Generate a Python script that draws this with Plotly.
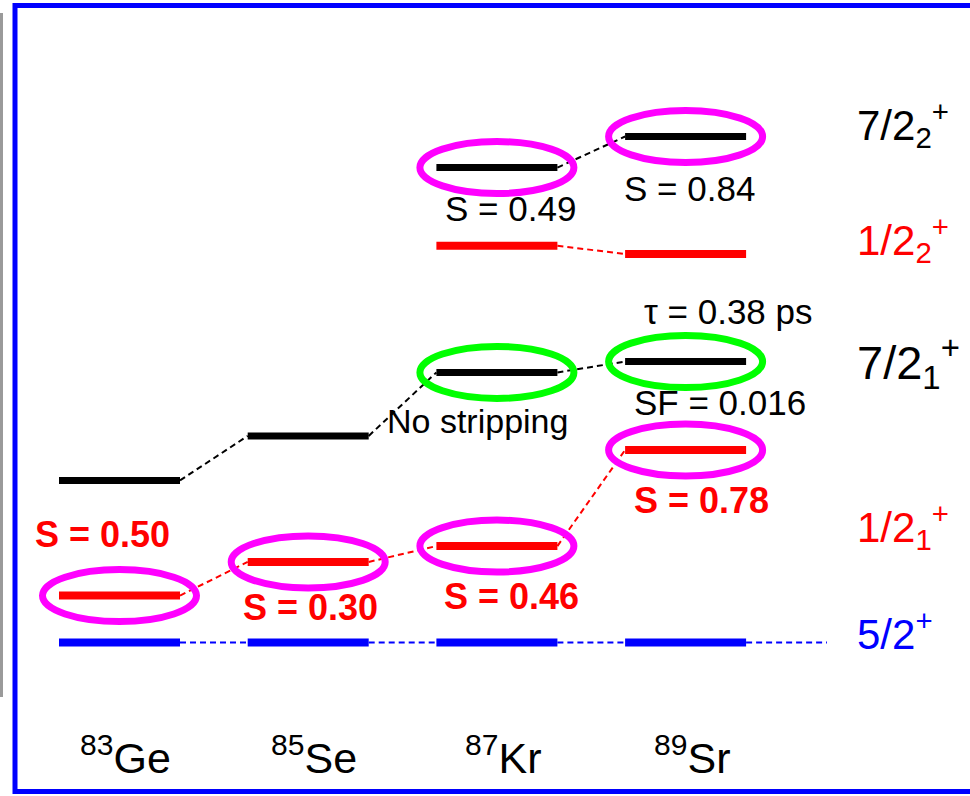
import plotly.graph_objects as go

# ---------------- data ----------------
nuclei = ["<sup>83</sup>Ge", "<sup>85</sup>Se", "<sup>87</sup>Kr", "<sup>89</sup>Sr"]
# level energies (keV, schematic) for each nucleus; None = not shown
E_5_2 = [0, 0, 0, 0]
E_1_2_1 = [251, 431, 516, 1030]
E_7_2_1 = [867, 1105, 1445, 1503]
E_1_2_2 = [None, None, 2123, 2078]
E_7_2_2 = [None, None, 2541, 2707]

level_labels = ["7/2<sub>2</sub><sup>+</sup>", "1/2<sub>2</sub><sup>+</sup>",
                "7/2<sub>1</sub><sup>+</sup>", "1/2<sub>1</sub><sup>+</sup>", "5/2<sup>+</sup>"]

# ---------------- geometry / style ----------------
W, H = 970, 796
X_PX0, X_PX_STEP = 119.5, 188.7
Y_PX0, KEV_PER_PX = 642.5, 5.35
HW = 60.5 / X_PX_STEP            # half bar width in x units
RX = 77 / X_PX_STEP              # ellipse radii
RY = 26 * KEV_PER_PX
x_range = [(0 - X_PX0) / X_PX_STEP, (W - X_PX0) / X_PX_STEP]
y_range = [(Y_PX0 - H) * KEV_PER_PX, Y_PX0 * KEV_PER_PX]

BLUE, RED, BLACK, MAG, GREEN = "#0000ff", "#ff0000", "#000000", "#ff00ff", "#00ff00"
FONT = "Liberation Sans, Arial, sans-serif"

fig = go.Figure()

def add_levels(E, color, width, extend_to=None):
    bx, by, dx, dy = [], [], [], []
    idx = [i for i, e in enumerate(E) if e is not None]
    for i in idx:
        bx += [i - HW, i + HW, None]
        by += [E[i], E[i], None]
    for a, b in zip(idx[:-1], idx[1:]):
        dx += [a + HW, b - HW, None]
        dy += [E[a], E[b], None]
    if extend_to is not None:
        last = idx[-1]
        dx += [last + HW, extend_to, None]
        dy += [E[last], E[last], None]
    fig.add_trace(go.Scatter(x=dx, y=dy, mode="lines", hoverinfo="skip",
                             line=dict(color=color, width=2, dash="6px,4px")))
    fig.add_trace(go.Scatter(x=bx, y=by, mode="lines", hoverinfo="skip",
                             line=dict(color=color, width=width)))

add_levels(E_5_2, BLUE, 8, extend_to=(827 - X_PX0) / X_PX_STEP)
add_levels(E_1_2_1, RED, 8)
add_levels(E_7_2_1, BLACK, 7)
add_levels(E_1_2_2, RED, 8)
add_levels(E_7_2_2, BLACK, 7)

# ellipses around selected levels
circled = [(0, E_1_2_1, MAG), (1, E_1_2_1, MAG), (2, E_1_2_1, MAG), (3, E_1_2_1, MAG),
           (2, E_7_2_2, MAG), (3, E_7_2_2, MAG),
           (2, E_7_2_1, GREEN), (3, E_7_2_1, GREEN)]
for i, E, c in circled:
    fig.add_shape(type="circle", xref="x", yref="y",
                  x0=i - RX, x1=i + RX, y0=E[i] - RY, y1=E[i] + RY,
                  line=dict(color=c, width=7))

# annotations attached to levels (nucleus, level list, text, style, xshift, yshift)
notes = [
    (0, E_1_2_1, "S = 0.50", "b", -17, 61),
    (1, E_1_2_1, "S = 0.30", "b", 2, -46),
    (2, E_1_2_1, "S = 0.46", "b", 15, -50),
    (3, E_1_2_1, "S = 0.78", "b", 16, -51),
    (2, E_7_2_2, "S = 0.49", "n", 14, -41),
    (3, E_7_2_2, "S = 0.84", "n", 4, -52),
    (3, E_7_2_1, "τ = 0.38 ps", "n", 43, 50),
    (3, E_7_2_1, "SF = 0.016", "n", 34, -41),
    (2, E_7_2_1, "No stripping", "s", -19, -49),
]
for i, E, t, st, xs, ys in notes:
    if st == "b":
        font = dict(family=FONT, size=36, color=RED, weight="bold")
        txt = "<b>" + t + "</b>"
    elif st == "s":
        font = dict(family=FONT, size=34, color=BLACK)
        txt = t
    else:
        font = dict(family=FONT, size=35, color=BLACK)
        txt = t
    fig.add_annotation(x=i, y=E[i], xref="x", yref="y", text=txt, showarrow=False,
                       xshift=xs, yshift=ys, xanchor="center", yanchor="middle", font=font)

# level labels on the right
label_y_px = [124, 240, 362, 526, 631]
label_colors = [BLACK, RED, BLACK, RED, BLUE]
label_sizes = [42, 42, 47, 42, 42]
for t, yp, c, s in zip(level_labels, label_y_px, label_colors, label_sizes):
    fig.add_annotation(x=855 / W, y=1 - yp / H, xref="paper", yref="paper", text=t,
                       showarrow=False, xanchor="left", yanchor="middle",
                       font=dict(family=FONT, size=s, color=c))

# nucleus labels at the bottom
for i, n in enumerate(nuclei):
    fig.add_annotation(x=i, y=1 - 755 / H, xref="x", yref="paper", text=n,
                       showarrow=False, xshift=6, xanchor="center", yanchor="middle",
                       font=dict(family=FONT, size=43, color=BLACK))

# frame
fig.add_shape(type="rect", xref="paper", yref="paper",
              x0=15 / W, x1=1.02, y0=1 - 791.5 / H, y1=1 - 5.5 / H,
              line=dict(color=BLUE, width=5))
fig.add_shape(type="line", xref="paper", yref="paper",
              x0=1.5 / W, x1=1.5 / W, y0=1 - 13 / H, y1=1 - 697 / H,
              line=dict(color="#9a9a9a", width=3))

fig.update_layout(
    width=W, height=H, margin=dict(l=0, r=0, t=0, b=0),
    paper_bgcolor="white", plot_bgcolor="white", showlegend=False,
    xaxis=dict(range=x_range, visible=False, fixedrange=True),
    yaxis=dict(range=y_range, visible=False, fixedrange=True),
)

fig.write_html("out.html")
